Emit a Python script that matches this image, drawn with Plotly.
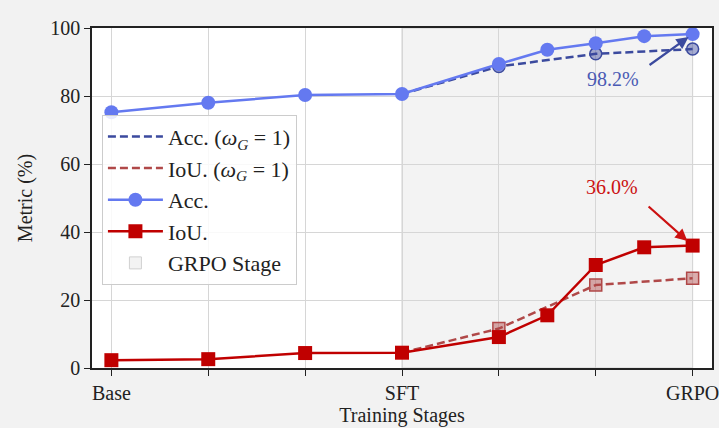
import plotly.graph_objects as go

# ---- data ----
stage_ticks = [0, 1, 2, 3, 4, 5, 6]
stage_labels = ["Base", "", "", "SFT", "", "", "GRPO"]

x_main = [0, 1, 2, 3, 4, 4.5, 5, 5.5, 6]
acc_main = [75.2, 78.0, 80.3, 80.6, 89.4, 93.6, 95.5, 97.6, 98.2]
iou_main = [2.3, 2.6, 4.4, 4.5, 9.1, 15.5, 30.3, 35.5, 36.0]

x_wg = [3, 4, 5, 6]
acc_wg = [80.6, 88.7, 92.4, 93.8]
iou_wg = [4.5, 11.6, 24.4, 26.4]

grpo_span = [3, 6]

FONT = "Liberation Serif"
C_ACC = "#6479f0"
C_ACC_D = "#3b4a9e"
C_IOU = "#c00000"
C_IOU_D = "#b04848"

fig = go.Figure()

# GRPO stage shading (shape with legend entry)
fig.add_shape(type="rect", xref="x", yref="y", x0=grpo_span[0], x1=grpo_span[1],
              y0=0, y1=100, layer="below", fillcolor="#f3f3f3",
              line=dict(width=1, color="#d0d0d0"), showlegend=True, name="GRPO Stage",
              legendrank=5, legendgroup="g5")

# dashed omega_G = 1 lines
fig.add_trace(go.Scatter(x=x_wg, y=acc_wg, mode="lines",
                         line=dict(color=C_ACC_D, width=2.5, dash="8px,4px"),
                         name="Acc. (<i>ω</i><sub><i>G</i></sub> = 1)",
                         legendrank=1, legendgroup="g1"))
fig.add_trace(go.Scatter(x=x_wg[1:], y=acc_wg[1:], mode="markers",
                         marker=dict(symbol="circle", size=12, color="rgba(59,74,158,0.45)",
                                     line=dict(color=C_ACC_D, width=1.5)),
                         showlegend=False, hoverinfo="skip"))
fig.add_trace(go.Scatter(x=x_wg, y=iou_wg, mode="lines",
                         line=dict(color=C_IOU_D, width=2.5, dash="8px,4px"),
                         name="IoU. (<i>ω</i><sub><i>G</i></sub> = 1)",
                         legendrank=2, legendgroup="g2"))
fig.add_trace(go.Scatter(x=x_wg[1:], y=iou_wg[1:], mode="markers",
                         marker=dict(symbol="square", size=12, color="rgba(176,72,72,0.45)",
                                     line=dict(color=C_IOU_D, width=1.5)),
                         showlegend=False, hoverinfo="skip"))

# solid lines
fig.add_trace(go.Scatter(x=x_main, y=acc_main, mode="lines+markers",
                         line=dict(color=C_ACC, width=2.5),
                         marker=dict(symbol="circle", size=14, color=C_ACC),
                         name="Acc.", legendrank=3, legendgroup="g3"))
fig.add_trace(go.Scatter(x=x_main, y=iou_main, mode="lines+markers",
                         line=dict(color=C_IOU, width=2.5),
                         marker=dict(symbol="square", size=14, color=C_IOU),
                         name="IoU.", legendrank=4, legendgroup="g4"))

# annotations
fig.add_annotation(x=6, y=acc_main[-1], ax=5.54, ay=88.8, axref="x", ayref="y",
                   xref="x", yref="y", text="", showarrow=True, arrowhead=2,
                   arrowsize=1.1, arrowwidth=2.2, arrowcolor=C_ACC_D, standoff=5)
fig.add_annotation(x=5.18, y=85.0, xref="x", yref="y", text="98.2%", showarrow=False,
                   font=dict(family=FONT, size=20, color="#4a5ab4"))
fig.add_annotation(x=6, y=iou_main[-1], ax=5.53, ay=47.9, axref="x", ayref="y",
                   xref="x", yref="y", text="", showarrow=True, arrowhead=2,
                   arrowsize=1.1, arrowwidth=2.2, arrowcolor="#cc1111", standoff=7)
fig.add_annotation(x=5.17, y=53.3, xref="x", yref="y", text="36.0%", showarrow=False,
                   font=dict(family=FONT, size=20, color="#cc1111"))

fig.update_layout(
    width=719, height=428,
    margin=dict(l=92, r=7, t=28, b=60),
    paper_bgcolor="#f2f2f2", plot_bgcolor="white",
    font=dict(family=FONT, size=20, color="#222"),
    showlegend=True,
    legend=dict(x=0.016, y=0.745, xanchor="left", yanchor="top",
                bgcolor="rgba(255,255,255,0.85)", bordercolor="#cccccc", borderwidth=1,
                font=dict(family=FONT, size=22, color="#222"),
                traceorder="grouped", tracegroupgap=0, itemwidth=55),
    xaxis=dict(range=[-0.2, 6.2], tickmode="array", tickvals=stage_ticks, ticktext=stage_labels,
               showgrid=True, gridcolor="#d6d6d6", gridwidth=1,
               showline=True, linecolor="#222", linewidth=1.5, mirror=True,
               ticks="outside", ticklen=6, tickcolor="#222", tickwidth=1.2,
               zeroline=False, tickfont=dict(size=20), ticklabeloverflow="allow",
               automargin=False,
               title=dict(text="Training Stages", font=dict(family=FONT, size=20), standoff=4)),
    yaxis=dict(range=[0, 100], tickvals=[0, 20, 40, 60, 80, 100],
               showgrid=True, gridcolor="#d6d6d6", gridwidth=1,
               showline=True, linecolor="#222", linewidth=1.5, mirror=True,
               ticks="outside", ticklen=6, tickcolor="#222", tickwidth=1.2,
               zeroline=False, tickfont=dict(size=20), automargin=False,
               title=dict(text="Metric (%)", font=dict(family=FONT, size=20), standoff=12)),
)

fig.write_html("out.html",
               config={"displayModeBar": False},
               post_script="var h=document.documentElement,b=document.body;"
                           "h.style.margin='0';h.style.padding='0';h.style.overflow='hidden';"
                           "b.style.margin='0';b.style.padding='0';b.style.overflow='hidden';"
                           "b.style.background='#f2f2f2';")
